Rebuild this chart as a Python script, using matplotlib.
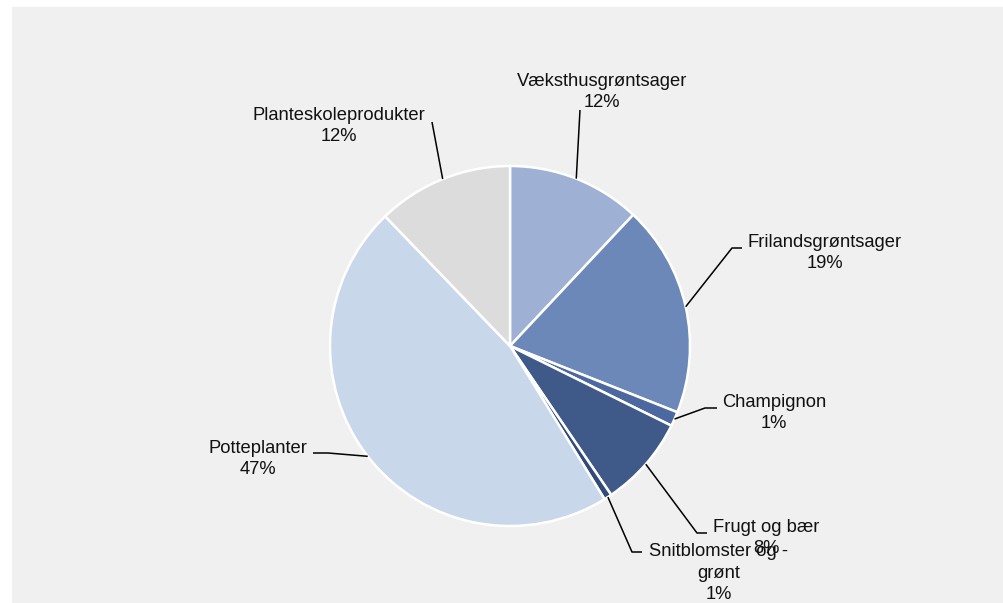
import numpy as np
import matplotlib.pyplot as plt
from matplotlib.patches import Rectangle

plt.rcParams["font.family"] = ["Liberation Sans", "DejaVu Sans"]

categories = [
    "Væksthusgrøntsager",
    "Frilandsgrøntsager",
    "Champignon",
    "Frugt og bær",
    "Snitblomster og -\ngrønt",
    "Potteplanter",
    "Planteskoleprodukter",
]
shares = [12.0, 19.0, 1.3, 8.2, 0.7, 46.6, 12.2]
colors = ["#9eb0d4", "#6b88b8", "#4c68a0", "#3f5a88", "#304a7a", "#c8d7ea", "#dcdcdc"]

W, H = 1004, 603
CX, CY, R = 510, 346, 180

# label layout in pixel coords (top origin): text centre, elbow, end of leader
label_pos = [(602, 92), (825, 253), (774, 413), (766, 538), (719, 573), (258, 459), (339, 126)]
elbows = [(580, 110), (732, 248), (705, 408), (697, 533), (632, 552), (328, 453), (432, 122)]
ends = [None, (742, 248), (717, 408), (707, 533), (642, 552), (313, 453), None]


def Y(y):
    return H - y


fig = plt.figure(figsize=(W / 100, H / 100), dpi=100)
fig.patch.set_facecolor("white")
fig.patches.append(Rectangle((12 / W, 0), 1 - 12 / W, 1 - 7 / H,
                             transform=fig.transFigure, color="#f0f0f0", zorder=-5))

ax = fig.add_axes([0, 0, 1, 1])
ax.patch.set_visible(False)

wedges, _ = ax.pie(shares, colors=colors, startangle=90, counterclock=False,
                   center=(CX, Y(CY)), radius=R, frame=True,
                   wedgeprops=dict(edgecolor="white", linewidth=1.8))
ax.set_xlim(0, W)
ax.set_ylim(0, H)
ax.set_aspect("equal")
ax.axis("off")

total = sum(shares)
for w, name, v, tp, el, en in zip(wedges, categories, shares, label_pos, elbows, ends):
    mid = np.deg2rad((w.theta1 + w.theta2) / 2)
    sx = CX + R * np.cos(mid)
    sy = Y(CY) + R * np.sin(mid)
    xs = [sx, el[0]]
    ys = [sy, Y(el[1])]
    if en is not None:
        xs.append(en[0])
        ys.append(Y(en[1]))
    ax.plot(xs, ys, color="black", lw=1.1, solid_capstyle="butt")
    ax.text(tp[0], Y(tp[1]), f"{name}\n{round(v / total * 100)}%",
            ha="center", va="center", multialignment="center",
            fontsize=13.2, color="#111111", linespacing=1.38)

fig.savefig("out.png", dpi=100, facecolor=fig.get_facecolor())
